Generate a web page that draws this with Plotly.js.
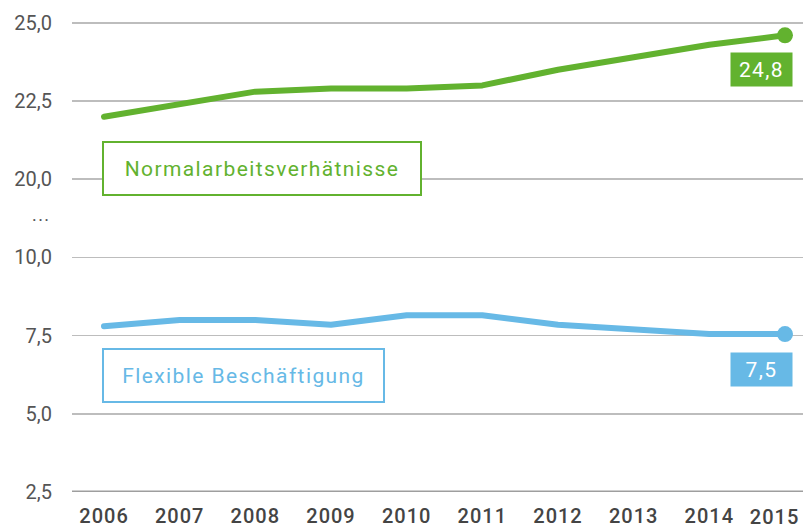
<!DOCTYPE html>
<html>
<head>
<meta charset="utf-8">
<script src="https://cdn.plot.ly/plotly-3.0.1.min.js"></script>
<style>
html,body{margin:0;padding:0;background:#fff;}
#chart{width:803px;height:528px;}
.js-line{stroke-linejoin:round;stroke-linecap:round;}
.annotation-text{letter-spacing:1.4px;}
.xtick text{letter-spacing:1px;}
.annotation[data-index="5"] .annotation-text{letter-spacing:1px;}
</style>
</head>
<body>
<div id="chart"></div>
<script>
// Data
const years = [2006, 2007, 2008, 2009, 2010, 2011, 2012, 2013, 2014, 2015];
const yearLabels = ['2006', '2007', '2008', '2009', '2010', '2011', '2012', '2013', '2014', '2015'];
const normal = [22.0, 22.4, 22.8, 22.9, 22.9, 23.0, 23.5, 23.9, 24.3, 24.6];
const flexible = [7.8, 8.0, 8.0, 7.85, 8.15, 8.15, 7.85, 7.7, 7.55, 7.55];
const seriesNames = ['Normalarbeitsverhätnisse', 'Flexible Beschäftigung'];
const endLabels = ['24,8', '7,5'];
const yTickValues = [2.5, 5.0, 7.5, 10.0, 20.0, 22.5, 25.0];
const yTickText = ['2,5', '5,0', '7,5', '10,0', '20,0', '22,5', '25,0'];

const green = '#62b22f';
const blue = '#67b9e6';
const font = 'Roboto, "DejaVu Sans", sans-serif';
const tickFont = {family: font, size: 20, color: '#444', weight: 500};

// broken axis: 10..20 collapsed to one step
function t(v) { return v >= 20 ? v - 7.5 : v; }

const last = years.length - 1;

const traces = [
  {x: years, y: normal.map(t), mode: 'lines', line: {color: green, width: 6}, hoverinfo: 'skip'},
  {x: years, y: flexible.map(t), mode: 'lines', line: {color: blue, width: 6}, hoverinfo: 'skip'},
  {x: [years[last]], y: [t(normal[last])], mode: 'markers',
   marker: {size: 16, color: green, opacity: 1, line: {width: 0}}, hoverinfo: 'skip'},
  {x: [years[last]], y: [t(flexible[last])], mode: 'markers',
   marker: {size: 16, color: blue, opacity: 1, line: {width: 0}}, hoverinfo: 'skip'}
];

// last year label is pulled in to stay inside the frame (as in the original)
const xTickText = yearLabels.map((s, i) => i === last ? '' : s);

const annotations = [
  {x: 0, xref: 'paper', y: t(20) - 1.12, yref: 'y', text: '...', showarrow: false,
   xanchor: 'right', xshift: -20, font: {family: font, size: 18, color: '#555'}},
  {x: years[0], xref: 'x', y: 12.84, yref: 'y', text: seriesNames[0], showarrow: false,
   xanchor: 'left', xshift: -2, width: 312, height: 47, align: 'center', bordercolor: green, borderwidth: 2, borderpad: 2,
   bgcolor: '#fff', font: {family: font, size: 21, color: green}},
  {x: years[0], xref: 'x', y: 6.24, yref: 'y', text: seriesNames[1], showarrow: false,
   xanchor: 'left', xshift: -2, width: 275, height: 47, align: 'center', bordercolor: blue, borderwidth: 2, borderpad: 2,
   bgcolor: '#fff', font: {family: font, size: 21, color: blue}},
  {x: years[last], xref: 'x', y: t(normal[last]), yref: 'y', text: endLabels[0], showarrow: false,
   xanchor: 'right', xshift: 8, yshift: -34.5, width: 57, height: 29, borderpad: 2, bgcolor: green,
   font: {family: font, size: 21, color: '#fff'}},
  {x: years[last], xref: 'x', y: t(flexible[last]), yref: 'y', text: endLabels[1], showarrow: false,
   xanchor: 'right', xshift: 8, yshift: -35.5, width: 57, height: 29, borderpad: 2, bgcolor: blue,
   font: {family: font, size: 21, color: '#fff'}},
  {x: 1, xref: 'paper', y: 0, yref: 'paper', text: yearLabels[last], showarrow: false,
   xanchor: 'right', yanchor: 'top', xshift: -2, yshift: -12, borderpad: 0, font: tickFont}
];

const layout = {
  width: 803, height: 528,
  margin: {l: 72, r: 0, t: 0, b: 36},
  paper_bgcolor: '#fff', plot_bgcolor: '#fff',
  showlegend: false,
  xaxis: {range: [2005.577, 2015.238], tickvals: years, ticktext: xTickText,
    showgrid: false, zeroline: false, showline: false,
    ticks: 'outside', ticklen: 6, tickcolor: 'rgba(0,0,0,0)',
    tickfont: tickFont, fixedrange: true},
  yaxis: {range: [2.5, 18.23], tickvals: yTickValues.map(t), ticktext: yTickText,
    showgrid: true, gridcolor: '#bdbdbd', gridwidth: 1.5, zeroline: false, showline: false,
    ticks: 'outside', ticklen: 15, tickcolor: 'rgba(0,0,0,0)',
    tickfont: {family: font, size: 20, color: '#555'}, fixedrange: true},
  shapes: [{type: 'line', xref: 'paper', x0: 0, x1: 1, yref: 'y', y0: 2.5, y1: 2.5,
    line: {color: '#9e9e9e', width: 3}}],
  annotations: annotations
};

Plotly.newPlot('chart', traces, layout, {displayModeBar: false, staticPlot: true});
</script>
</body>
</html>
